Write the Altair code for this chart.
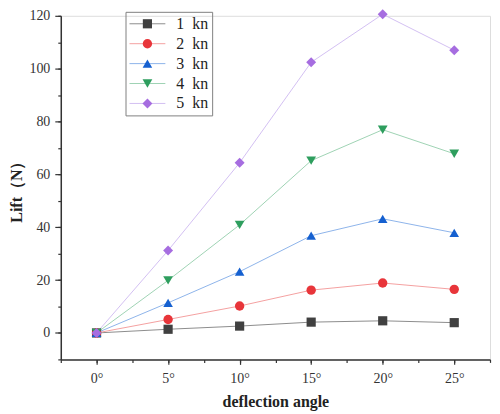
import altair as alt
import pandas as pd

angles = [0, 5, 10, 15, 20, 25]
series_names = ["1\u2002kn", "2\u2002kn", "3\u2002kn", "4\u2002kn", "5\u2002kn"]
lift_1kn = [0, 1.4, 2.6, 4.1, 4.6, 3.9]
lift_2kn = [0, 5.1, 10.2, 16.2, 18.9, 16.5]
lift_3kn = [0, 11.4, 23.2, 36.8, 43.2, 37.9]
lift_4kn = [0, 19.9, 40.9, 65.2, 76.9, 67.8]
lift_5kn = [0, 31.2, 64.4, 102.4, 120.6, 107.0]
marker_colors = ["#404040", "#e8353a", "#1560d0", "#2e9e5e", "#a66de0"]
line_colors = ["#8c8c8c", "#f4a0a0", "#8db3ea", "#9ed3b3", "#d3bff2"]
shapes = ["square", "circle", "triangle-up", "triangle-down", "diamond"]
marker_sizes = [85, 100, 140, 140, 120]
x_major = [0, 5, 10, 15, 20, 25]
x_all = [-2.5, 0, 2.5, 5, 7.5, 10, 12.5, 15, 17.5, 20, 22.5, 25, 27.5]
y_major = [0, 20, 40, 60, 80, 100, 120]
y_all = [-10, 0, 10, 20, 30, 40, 50, 60, 70, 80, 90, 100, 110, 120]

all_series = [lift_1kn, lift_2kn, lift_3kn, lift_4kn, lift_5kn]
rows = []
for name, vals in zip(series_names, all_series):
    for a, v in zip(angles, vals):
        rows.append({"angle": a, "lift": v, "series": name, "series_m": name})
df = pd.DataFrame(rows)

SERIF = "Times New Roman, Liberation Serif, serif"
xscale = alt.Scale(domain=[-2.5, 27.5], nice=False, zero=False)
yscale = alt.Scale(domain=[-10, 120], nice=False, zero=False)

common_axis = dict(grid=False, labelFont=SERIF, labelFontSize=14, labelColor="#333333",
                   tickColor="#333333", domainColor="#333333", domainWidth=1.5, tickWidth=1.2,
                   titleFont=SERIF, titleFontSize=16, titleFontWeight="bold", titleColor="#222222")

legend_common = dict(orient="none", legendX=65, legendY=-4, padding=4, rowPadding=4,
                     symbolOffset=10, labelOffset=21, labelFont=SERIF, labelFontSize=16,
                     title=None)

lines = alt.Chart(df).mark_line(strokeWidth=1).encode(
    x=alt.X("angle:Q", scale=xscale,
            axis=alt.Axis(values=x_major, labelExpr='datum.value + "°"', tickSize=5,
                          labelPadding=7, title="deflection angle", titlePadding=8, **common_axis)),
    y=alt.Y("lift:Q", scale=yscale,
            axis=alt.Axis(values=y_major, tickSize=6, labelPadding=5, title="Lift（N）",
                          titlePadding=4, **common_axis)),
    color=alt.Color("series:N", scale=alt.Scale(domain=series_names, range=line_colors),
                    legend=alt.Legend(symbolType="M-4.5,0H4.5", symbolSize=64, symbolStrokeWidth=1,
                                      labelColor="#222222", strokeColor="#808080",
                                      **legend_common)),
    detail="series:N",
)

points = alt.Chart(df).mark_point(filled=True, opacity=1).encode(
    x=alt.X("angle:Q", scale=xscale,
            axis=alt.Axis(values=x_all, labels=False, domain=False, tickSize=3, title="",
                          orient="bottom", grid=False, tickColor="#333333", tickWidth=1.2)),
    y=alt.Y("lift:Q", scale=yscale,
            axis=alt.Axis(values=y_all, labels=False, domain=False, tickSize=3, title="",
                          orient="left", grid=False, tickColor="#333333", tickWidth=1.2)),
    color=alt.Color("series_m:N", scale=alt.Scale(domain=series_names, range=marker_colors),
                    legend=alt.Legend(symbolSize=56, symbolStrokeWidth=0, labelOpacity=0,
                                      **legend_common)),
    shape=alt.Shape("series_m:N", scale=alt.Scale(domain=series_names, range=shapes),
                    legend=alt.Legend(symbolSize=56, symbolStrokeWidth=0, labelOpacity=0,
                                      **legend_common)),
    size=alt.Size("series_m:N", scale=alt.Scale(domain=series_names, range=marker_sizes),
                  legend=None),
)

chart = alt.layer(lines, points).resolve_scale(
    color="independent", shape="independent", size="independent"
).resolve_axis(x="independent", y="independent").properties(
    width=431, height=345, autosize="none",
    padding={"left": 53, "top": 7, "right": 2, "bottom": 56},
).configure_view(stroke=None).configure(background="white")

chart.save("out.html", embed_options={"renderer": "svg", "actions": False})
